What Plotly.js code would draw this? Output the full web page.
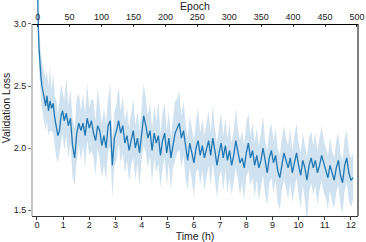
<!DOCTYPE html>
<html>
<head>
<meta charset="utf-8">
<script src="https://cdn.plot.ly/plotly-3.0.1.min.js"></script>
<style>html,body{margin:0;padding:0;background:#fff;}#chart{width:366px;height:242px;}</style>
</head>
<body>
<div id="chart"></div>
<script>
// Time (hours) of each validation point
var timeH = [
 0, 0.02, 0.05, 0.08, 0.11, 0.15, 0.19, 0.23, 0.28, 0.33,
 0.38, 0.44, 0.50, 0.56, 0.62, 0.68, 0.74, 0.80, 0.86, 0.92,
 0.98, 1.04, 1.12, 1.20, 1.28, 1.36, 1.44, 1.52, 1.60, 1.68,
 1.76, 1.84, 1.92, 2.00, 2.08, 2.16, 2.24, 2.32, 2.40, 2.48,
 2.56, 2.64, 2.72, 2.80, 2.88, 2.96, 3.04, 3.12, 3.20, 3.28,
 3.36, 3.44, 3.52, 3.60, 3.68, 3.76, 3.84, 3.92, 4.00, 4.08,
 4.16, 4.24, 4.32, 4.40, 4.48, 4.56, 4.64, 4.72, 4.80, 4.88,
 4.96, 5.04, 5.12, 5.20, 5.28, 5.36, 5.44, 5.52, 5.60, 5.68,
 5.76, 5.84, 5.92, 6.00, 6.08, 6.16, 6.24, 6.32, 6.40, 6.48,
 6.56, 6.64, 6.72, 6.80, 6.88, 6.96, 7.04, 7.12, 7.20, 7.28,
 7.36, 7.44, 7.52, 7.60, 7.68, 7.76, 7.84, 7.92, 8.00, 8.08,
 8.16, 8.24, 8.32, 8.40, 8.48, 8.56, 8.64, 8.72, 8.80, 8.88,
 8.96, 9.04, 9.12, 9.20, 9.28, 9.36, 9.44, 9.52, 9.60, 9.68,
 9.76, 9.84, 9.92, 10.00, 10.08, 10.16, 10.24, 10.32, 10.40, 10.48,
 10.56, 10.64, 10.72, 10.80, 10.88, 10.96, 11.04, 11.12, 11.20, 11.28,
 11.36, 11.44, 11.52, 11.60, 11.68, 11.76, 11.84, 11.92, 12.00, 12.08
];
// Mean validation loss
var lossMean = [
 3.55, 3.20, 2.98, 2.80, 2.68, 2.58, 2.50, 2.44, 2.40, 2.34,
 2.42, 2.30, 2.38, 2.32, 2.36, 2.24, 2.18, 2.10, 2.14, 2.26,
 2.30, 2.22, 2.28, 2.18, 2.24, 2.02, 1.92, 2.12, 2.20, 2.14,
 2.20, 2.10, 2.24, 2.16, 2.22, 2.12, 2.06, 2.18, 2.14, 2.02,
 2.10, 2.00, 2.18, 2.22, 1.86, 2.08, 2.14, 2.22, 2.12, 2.18,
 2.04, 2.10, 1.98, 2.06, 2.14, 2.00, 2.08, 1.96, 2.10, 2.26,
 2.18, 2.08, 2.14, 1.98, 2.12, 2.04, 2.10, 1.94, 2.06, 2.12,
 1.96, 2.08, 1.92, 2.04, 2.12, 2.16, 2.20, 2.08, 2.14, 2.02,
 1.90, 2.04, 1.96, 1.88, 2.00, 2.06, 1.94, 2.02, 1.92, 1.98,
 2.06, 1.94, 2.08, 1.98, 1.86, 1.96, 2.04, 1.92, 2.02, 1.90,
 1.98, 1.86, 1.94, 2.06, 1.96, 1.88, 1.92, 1.84, 1.96, 2.04,
 1.92, 1.98, 1.86, 1.94, 1.84, 1.90, 2.00, 1.88, 1.80, 1.92,
 1.98, 1.88, 1.94, 1.82, 1.76, 1.86, 1.96, 1.90, 1.84, 1.92,
 1.80, 1.88, 1.96, 1.86, 1.78, 1.90, 1.84, 1.74, 1.86, 1.92,
 1.84, 1.90, 1.80, 1.86, 1.94, 1.88, 1.82, 1.76, 1.86, 1.80,
 1.74, 1.84, 1.90, 1.78, 1.72, 1.86, 1.92, 1.80, 1.74, 1.76
];
// Upper edge of the shaded band
var lossUpper = [
 3.70, 3.40, 3.12, 2.94, 2.84, 2.76, 2.70, 2.66, 2.62, 2.56,
 2.62, 2.50, 2.66, 2.46, 2.60, 2.42, 2.38, 2.28, 2.38, 2.52,
 2.46, 2.38, 2.56, 2.34, 2.48, 2.24, 2.16, 2.40, 2.44, 2.30,
 2.44, 2.28, 2.52, 2.32, 2.40, 2.38, 2.22, 2.48, 2.34, 2.20,
 2.32, 2.20, 2.40, 2.52, 2.08, 2.28, 2.36, 2.50, 2.30, 2.42,
 2.22, 2.32, 2.16, 2.28, 2.40, 2.18, 2.30, 2.14, 2.34, 2.52,
 2.40, 2.26, 2.38, 2.16, 2.34, 2.22, 2.38, 2.12, 2.28, 2.36,
 2.14, 2.30, 2.10, 2.26, 2.38, 2.40, 2.46, 2.26, 2.38, 2.20,
 2.08, 2.26, 2.14, 2.06, 2.22, 2.32, 2.12, 2.24, 2.10, 2.20,
 2.30, 2.12, 2.34, 2.16, 2.04, 2.18, 2.28, 2.10, 2.24, 2.08,
 2.20, 2.04, 2.14, 2.32, 2.16, 2.06, 2.14, 2.02, 2.20, 2.28,
 2.10, 2.20, 2.04, 2.16, 2.02, 2.12, 2.26, 2.06, 1.98, 2.14,
 2.20, 2.06, 2.16, 2.00, 1.94, 2.08, 2.18, 2.08, 2.02, 2.16,
 1.98, 2.10, 2.20, 2.04, 1.96, 2.12, 2.02, 1.92, 2.08, 2.14,
 2.02, 2.12, 1.98, 2.08, 2.18, 2.06, 2.00, 1.94, 2.08, 1.98,
 1.92, 2.06, 2.12, 1.96, 1.90, 2.08, 2.14, 1.98, 1.92, 1.96
];
// Lower edge of the shaded band
var lossLower = [
 3.40, 3.02, 2.84, 2.66, 2.52, 2.40, 2.32, 2.26, 2.20, 2.14,
 2.22, 2.10, 2.14, 2.14, 2.12, 2.02, 1.92, 1.88, 1.96, 2.06,
 2.12, 1.98, 2.10, 1.92, 2.04, 1.76, 1.70, 1.90, 2.02, 1.90,
 2.02, 1.84, 2.06, 1.94, 1.98, 1.92, 1.78, 2.00, 1.90, 1.76,
 1.86, 1.74, 1.98, 2.00, 1.60, 1.86, 1.90, 2.04, 1.88, 1.96,
 1.80, 1.90, 1.72, 1.86, 1.92, 1.74, 1.88, 1.70, 1.90, 2.02,
 1.96, 1.84, 1.94, 1.72, 1.92, 1.80, 1.88, 1.68, 1.84, 1.92,
 1.70, 1.88, 1.66, 1.84, 1.90, 1.96, 1.98, 1.84, 1.94, 1.76,
 1.66, 1.84, 1.74, 1.60, 1.80, 1.84, 1.70, 1.82, 1.66, 1.78,
 1.86, 1.70, 1.88, 1.74, 1.60, 1.76, 1.82, 1.66, 1.82, 1.64,
 1.76, 1.62, 1.74, 1.84, 1.74, 1.62, 1.72, 1.58, 1.76, 1.82,
 1.70, 1.76, 1.60, 1.74, 1.58, 1.70, 1.78, 1.62, 1.54, 1.72,
 1.76, 1.64, 1.74, 1.56, 1.50, 1.66, 1.74, 1.68, 1.58, 1.72,
 1.56, 1.66, 1.76, 1.62, 1.52, 1.70, 1.58, 1.40, 1.64, 1.72,
 1.62, 1.70, 1.54, 1.66, 1.74, 1.64, 1.60, 1.50, 1.66, 1.56,
 1.52, 1.64, 1.70, 1.54, 1.48, 1.66, 1.72, 1.58, 1.52, 1.58
];
var timeTicks = [0,1,2,3,4,5,6,7,8,9,10,11,12];
var epochTicks = [0,50,100,150,200,250,300,350,400,450,500];
var lossTicks = [1.5, 2.0, 2.5, 3.0];
var lossTickText = ['1.5','2.0','2.5','3.0'];

var blue = '#1f77b4';
var traces = [
  {x: timeH, y: lossLower, mode: 'lines', line: {width: 0, color: blue}, hoverinfo: 'skip', showlegend: false},
  {x: timeH, y: lossUpper, mode: 'lines', line: {width: 0, color: blue}, fill: 'tonexty',
   fillcolor: 'rgba(31,119,180,0.21)', hoverinfo: 'skip', showlegend: false},
  {x: timeH, y: lossMean, mode: 'lines', line: {width: 1.3, color: blue}, showlegend: false},
  // empty trace that only registers the top (epoch) axis
  {x: epochTicks, y: epochTicks.map(function(){return null;}), xaxis: 'x2', yaxis: 'y',
   mode: 'lines', hoverinfo: 'skip', showlegend: false}
];

var topPos = (216 - 24) / 216;
var layout = {
  width: 366, height: 242,
  margin: {l: 32, r: 8, t: 0, b: 26, pad: 0},
  paper_bgcolor: '#fff', plot_bgcolor: '#fff',
  showlegend: false,
  font: {family: '"Liberation Sans", Arial, sans-serif', size: 9, color: '#222'},
  xaxis: {
    range: [-0.19, 12.27], tickvals: timeTicks, ticks: 'outside', ticklen: 3, tickwidth: 1,
    tickcolor: '#333', showline: true, linecolor: '#333', linewidth: 1, showgrid: false, zeroline: false,
    ticklabelstandoff: -3,
    tickfont: {size: 9}, title: {text: 'Time (h)', font: {size: 10.5}, standoff: 0}
  },
  xaxis2: {
    overlaying: 'x', side: 'top', anchor: 'free', position: topPos,
    range: [-8.9, 501.6], tickvals: epochTicks, ticks: 'inside', ticklen: 2, tickwidth: 1,
    tickcolor: '#333', showline: true, linecolor: '#000', linewidth: 1, showgrid: false, zeroline: false,
    tickfont: {size: 9}, title: {text: 'Epoch', font: {size: 10.5}, standoff: 0}
  },
  yaxis: {
    range: [1.4516, 3.1935], tickvals: lossTicks, ticktext: lossTickText, ticks: 'outside', ticklen: 3,
    tickwidth: 1, tickcolor: '#777', showline: false, showgrid: false, zeroline: false,
    tickfont: {size: 9}, title: {text: 'Validation Loss', font: {size: 10.5}, standoff: 4}
  },
  shapes: [
    {type: 'line', xref: 'paper', yref: 'paper', x0: 0, x1: 0, y0: 0, y1: topPos, line: {color: '#888', width: 1}},
    {type: 'line', xref: 'paper', yref: 'paper', x0: 1, x1: 1, y0: 0, y1: topPos, line: {color: '#000', width: 1}}
  ]
};
Plotly.newPlot('chart', traces, layout, {staticPlot: true, displayModeBar: false});
</script>
</body>
</html>
